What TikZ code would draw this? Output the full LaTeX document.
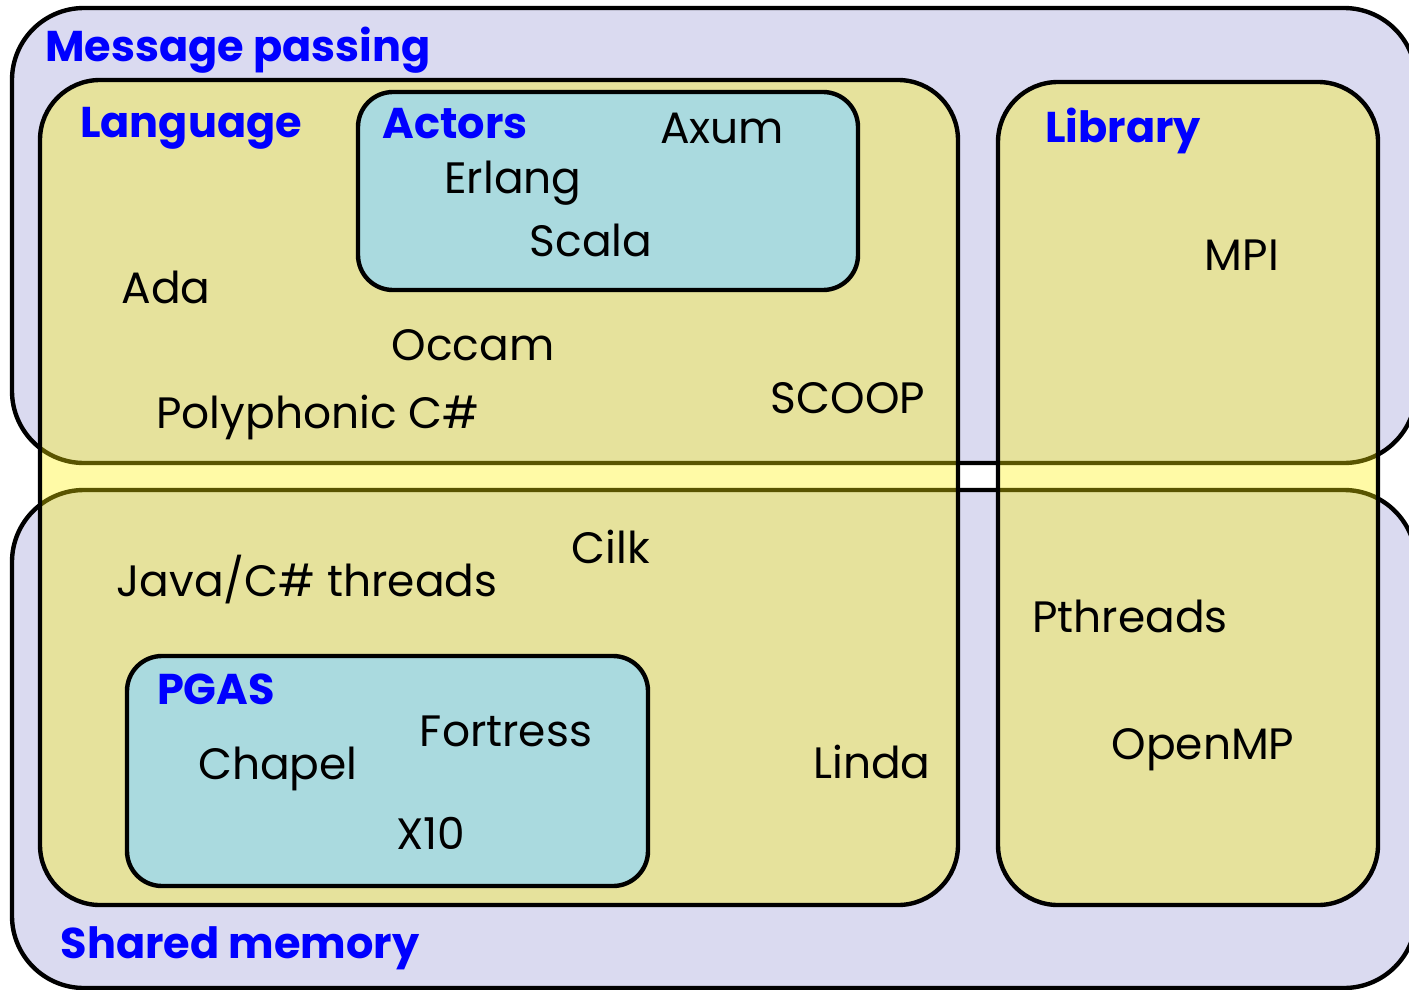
\documentclass[tikz,border=0pt]{standalone}
\usepackage{fontspec}
\setmainfont{Poppins}
\usetikzlibrary{positioning}
\definecolor{lavender}{RGB}{218,218,240}
\definecolor{paleblue}{RGB}{170,218,223}
\tikzset{
  outer/.style={draw, line width=2.5pt, fill=lavender, rounded corners=1.44cm},
  kind/.style={draw, line width=2.5pt, fill=yellow, fill opacity=0.35, rounded corners=1.2cm},
  family/.style={draw, line width=2.5pt, fill=paleblue, rounded corners=0.7cm},
  head/.style={anchor=base, text=blue, font=\fontsize{24.5}{28}\selectfont\bfseries},
  lang/.style={anchor=base, font=\fontsize{25}{28}\selectfont},
}

\begin{document}
\begin{tikzpicture}[x=0.02cm, y=-0.02cm]

	\clip (0,0) rectangle (1409,990);

	% message passing and shared memory
	\draw [outer] (12,8) rectangle (1416,463);
	\draw [outer] (12,490) rectangle (1416,988);

	% language and library
	\draw [kind] (40,80) rectangle (958,905);
	\draw [kind] (998,82) rectangle (1378,905);

	% actors and pgas
	\draw [family] (358,92) rectangle (858,290);
	\draw [family] (127,656) rectangle (648,886);

	\node [head] (msg) at (238,62) {Message passing};
	\node [head] (shm) at (240,958) {Shared memory};
	\node [head] (language) at (191,137) {Language};
	\node [head] (library) at (1123,142) {Library};
	\node [head] (actors) at (455,138) {Actors};
	\node [head] (pgas) at (216,704) {PGAS};

	\node [lang] (axum) at (722,143) {Axum};
	\node [lang] (erlang) at (513,193) {Erlang};
	\node [lang] (scala) at (591,256) {Scala};
	\node [lang] (mpi) at (1242,270) {MPI};
	\node [lang] (ada) at (166,303) {Ada};
	\node [lang] (occam) at (473,360) {Occam};
	\node [lang] (poly) at (318,428) {Polyphonic C\#};
	\node [lang] (scoop) at (848,413) {SCOOP};
	\node [lang] (cilk) at (611,563) {Cilk};
	\node [lang] (java) at (307,596) {Java/C\# threads};
	\node [lang] (pthreads) at (1130,632) {Pthreads};
	\node [lang] (fortress) at (506,746) {Fortress};
	\node [lang] (chapel) at (278,779) {Chapel};
	\node [lang] (linda) at (872,778) {Linda};
	\node [lang] (openmp) at (1203,759) {OpenMP};
	\node [lang] (x10) at (431,849) {X10};

\end{tikzpicture}
\end{document}
